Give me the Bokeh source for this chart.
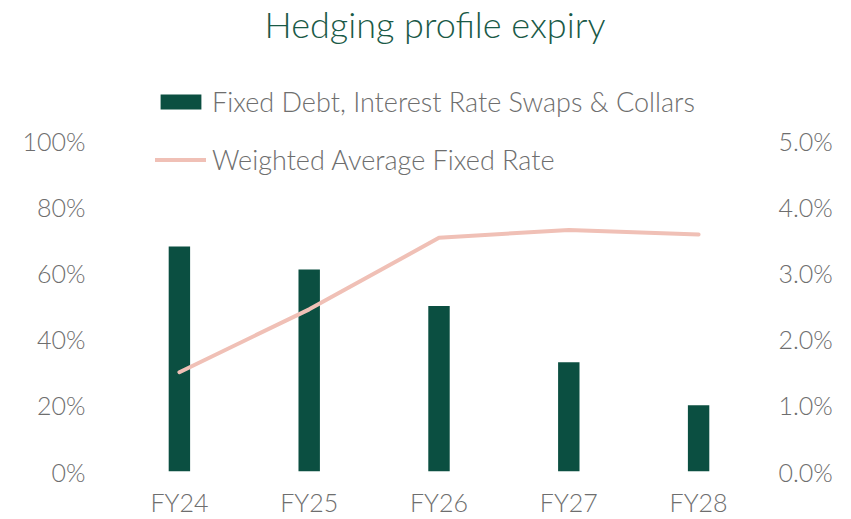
from bokeh.plotting import figure
from bokeh.models import (ColumnDataSource, Range1d, LinearAxis, NumeralTickFormatter,
                          FixedTicker, Legend, LegendItem, Label)
from bokeh.embed import file_html
from bokeh.resources import INLINE

categories = ["FY24", "FY25", "FY26", "FY27", "FY28"]
hedged_share = [0.68, 0.61, 0.50, 0.33, 0.20]
avg_fixed_rate = [0.0150, 0.0245, 0.0353, 0.0365, 0.0358]
left_ticks = [0.0, 0.2, 0.4, 0.6, 0.8, 1.0]
right_ticks = [0.0, 0.01, 0.02, 0.03, 0.04, 0.05]
title_text = "Hedging profile expiry"

BAR = "#0B4F41"
LINE = "#F0C0B6"
TXT = "#6E6E6E"
FONT = "Lato Light"

W, H = 851, 519
BORDER_BOTTOM = 48
PX_PER_UNIT = 328.5                   # pixels for 0%..100% on the left axis
FRAME_H = H - BORDER_BOTTOM - 3.5     # plot area height as laid out
TOP = FRAME_H / PX_PER_UNIT           # headroom above 100% holds the title and legend

src = ColumnDataSource(dict(cat=categories, share=hedged_share, rate=avg_fixed_rate))

p = figure(x_range=categories, y_range=Range1d(0, TOP), width=W, height=H,
           output_backend="svg", toolbar_location=None,
           min_border_left=114, min_border_right=88, min_border_top=0,
           min_border_bottom=BORDER_BOTTOM)
p.extra_y_ranges = {"rate": Range1d(0, TOP * 0.05)}

bars = p.vbar(x="cat", top="share", width=0.165, source=src, color=BAR, line_color=None)
line = p.line(x="cat", y="rate", source=src, y_range_name="rate", color=LINE,
              line_width=4, line_cap="round", line_join="round")

# title anchored near the top of the page, centred over the plot
title_y = (H - BORDER_BOTTOM - 27) / PX_PER_UNIT
p.add_layout(Label(x=len(categories) / 2, y=title_y, x_offset=-4, text=title_text,
                   text_align="center", text_baseline="alphabetic", text_font=FONT,
                   text_font_size="36px", text_color="#1A5A47"))

p.yaxis.ticker = FixedTicker(ticks=left_ticks)
p.yaxis.formatter = NumeralTickFormatter(format="0%")
right = LinearAxis(y_range_name="rate", ticker=FixedTicker(ticks=right_ticks),
                   formatter=NumeralTickFormatter(format="0.0%"))
p.add_layout(right, "right")

for ax in [p.xaxis[0], p.yaxis[0], right]:
    ax.axis_line_color = None
    ax.major_tick_line_color = None
    ax.minor_tick_line_color = None
    ax.major_tick_out = 0
    ax.major_tick_in = 0
    ax.minor_tick_out = 0
    ax.minor_tick_in = 0
    ax.major_label_text_font = FONT
    ax.major_label_text_font_size = "25px"
    ax.major_label_text_color = TXT
p.yaxis[0].major_label_standoff = 29
right.major_label_standoff = 15
p.xaxis[0].major_label_standoff = 15

p.xgrid.grid_line_color = None
p.ygrid.grid_line_color = None
p.outline_line_color = None

legend = Legend(items=[LegendItem(label="Fixed Debt, Interest Rate Swaps & Collars", renderers=[bars]),
                       LegendItem(label="Weighted Average Fixed Rate", renderers=[line])],
                location=(41, 295), orientation="vertical",
                glyph_width=51, glyph_height=19, label_height=33, label_standoff=6,
                spacing=25, padding=0, margin=0, border_line_color=None,
                background_fill_alpha=0, label_text_font=FONT, label_text_font_size="27px",
                label_text_color=TXT)
p.add_layout(legend, "center")

open("out.html", "w").write(file_html(p, INLINE))
